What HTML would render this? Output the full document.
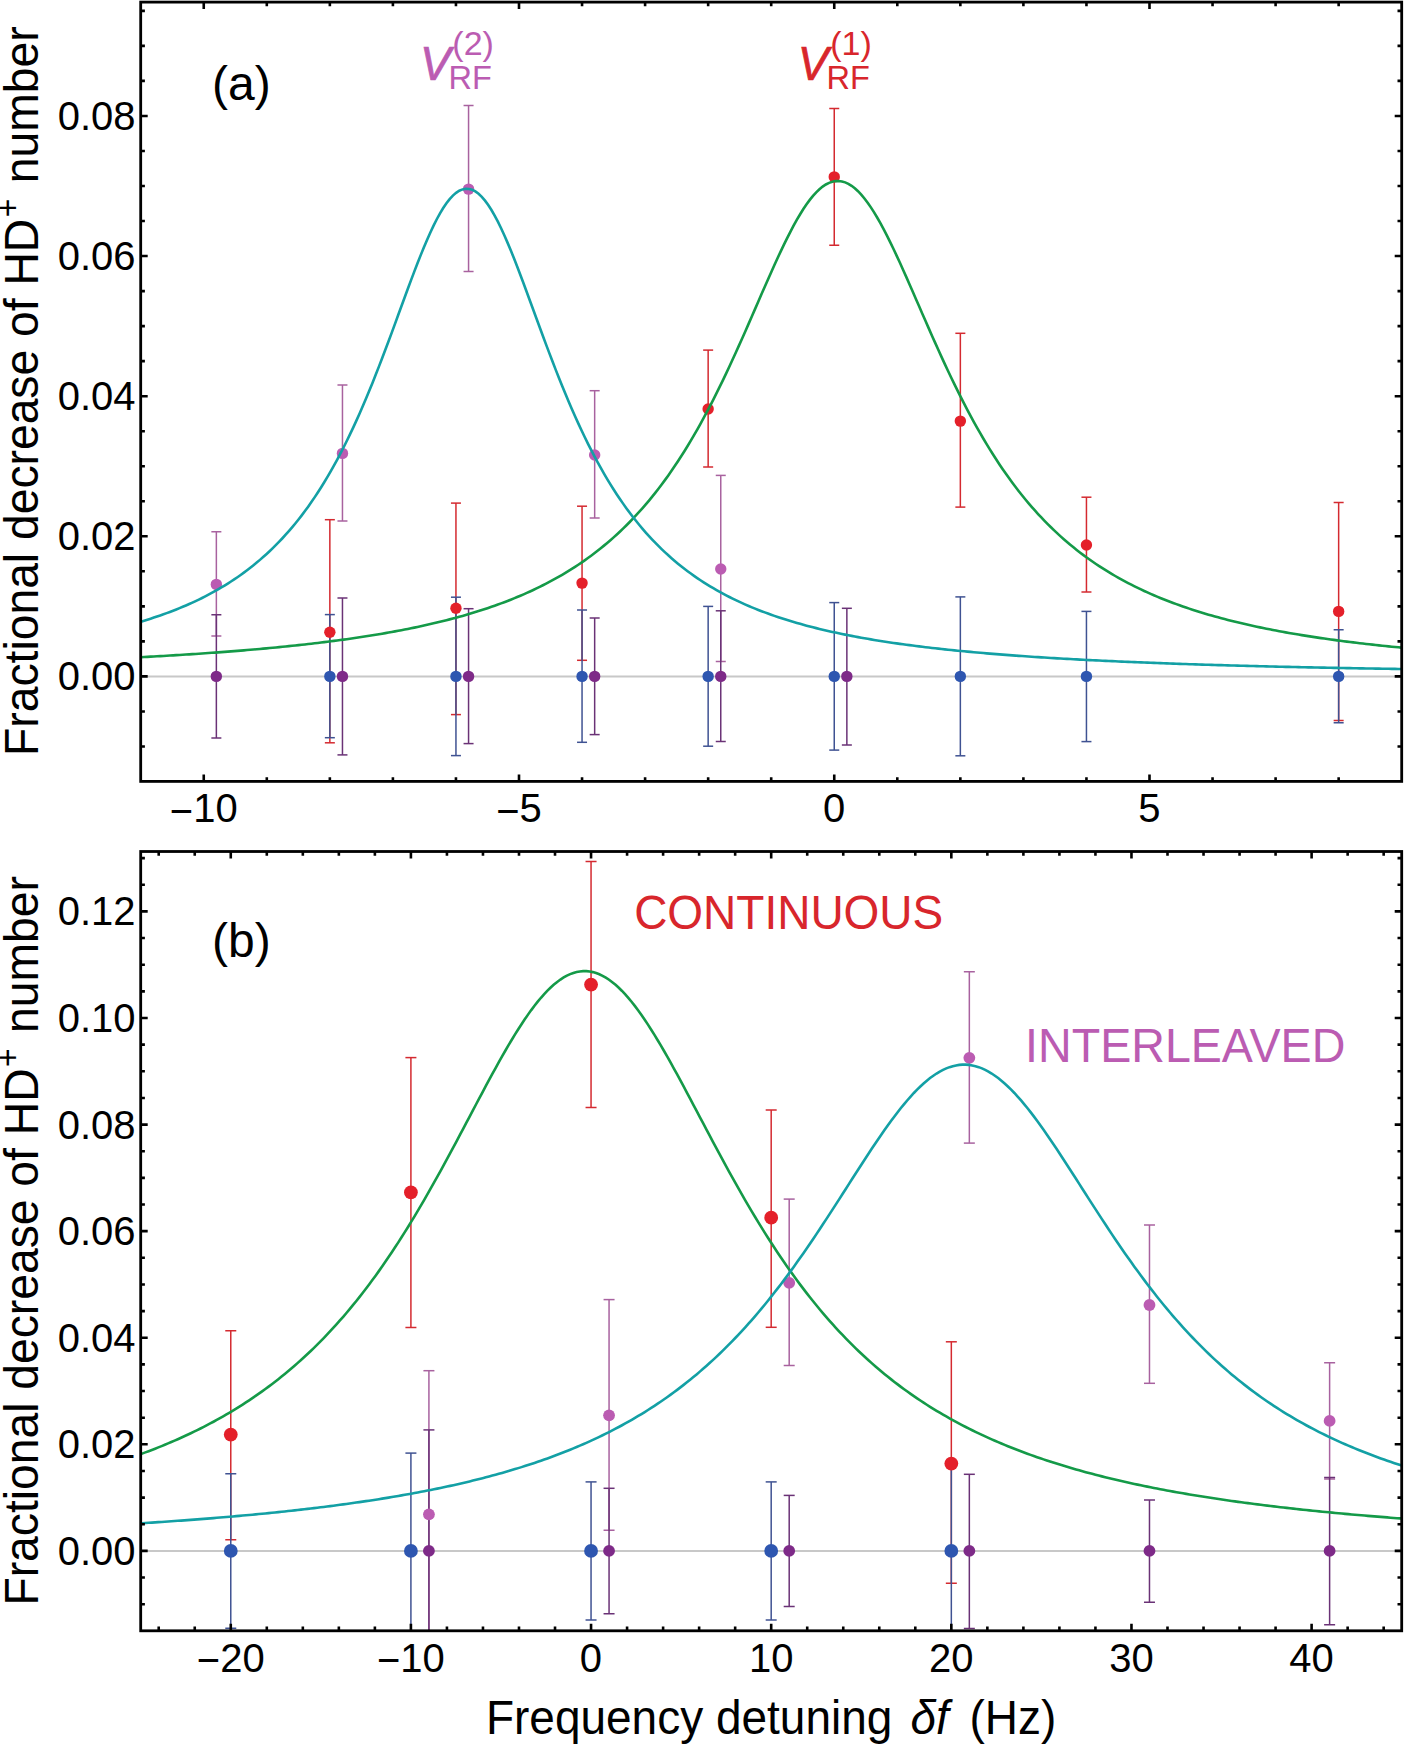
<!DOCTYPE html><html><head><meta charset="utf-8"><style>html,body{margin:0;padding:0;background:#fff}svg text{font-family:"Liberation Sans",sans-serif}</style></head><body><svg width="1404" height="1744" viewBox="0 0 1404 1744" style="display:block;font-family:'Liberation Sans',sans-serif">
<rect width="1404" height="1744" fill="#fff"/>
<defs><clipPath id="ca"><rect x="140.7" y="2.1" width="1261" height="779.3"/></clipPath><clipPath id="cb"><rect x="140.7" y="851.5" width="1261" height="779.3"/></clipPath></defs>
<g clip-path="url(#ca)">
<line x1="140.7" y1="676.4" x2="1401.7" y2="676.4" stroke="#c8c8c8" stroke-width="2"/>
<line x1="329.85" y1="519.7" x2="329.85" y2="742.8" stroke="#d42a30" stroke-width="1.5"/><line x1="324.85" y1="519.7" x2="334.85" y2="519.7" stroke="#d42a30" stroke-width="1.5"/><line x1="324.85" y1="742.8" x2="334.85" y2="742.8" stroke="#d42a30" stroke-width="1.5"/>
<line x1="455.95" y1="503.1" x2="455.95" y2="714.6" stroke="#d42a30" stroke-width="1.5"/><line x1="450.95" y1="503.1" x2="460.95" y2="503.1" stroke="#d42a30" stroke-width="1.5"/><line x1="450.95" y1="714.6" x2="460.95" y2="714.6" stroke="#d42a30" stroke-width="1.5"/>
<line x1="582.05" y1="506.2" x2="582.05" y2="660.3" stroke="#d42a30" stroke-width="1.5"/><line x1="577.05" y1="506.2" x2="587.05" y2="506.2" stroke="#d42a30" stroke-width="1.5"/><line x1="577.05" y1="660.3" x2="587.05" y2="660.3" stroke="#d42a30" stroke-width="1.5"/>
<line x1="708.15" y1="350.1" x2="708.15" y2="467" stroke="#d42a30" stroke-width="1.5"/><line x1="703.15" y1="350.1" x2="713.15" y2="350.1" stroke="#d42a30" stroke-width="1.5"/><line x1="703.15" y1="467" x2="713.15" y2="467" stroke="#d42a30" stroke-width="1.5"/>
<line x1="834.25" y1="108.5" x2="834.25" y2="245.2" stroke="#d42a30" stroke-width="1.5"/><line x1="829.25" y1="108.5" x2="839.25" y2="108.5" stroke="#d42a30" stroke-width="1.5"/><line x1="829.25" y1="245.2" x2="839.25" y2="245.2" stroke="#d42a30" stroke-width="1.5"/>
<line x1="960.35" y1="333.3" x2="960.35" y2="507.1" stroke="#d42a30" stroke-width="1.5"/><line x1="955.35" y1="333.3" x2="965.35" y2="333.3" stroke="#d42a30" stroke-width="1.5"/><line x1="955.35" y1="507.1" x2="965.35" y2="507.1" stroke="#d42a30" stroke-width="1.5"/>
<line x1="1086.45" y1="497.2" x2="1086.45" y2="592" stroke="#d42a30" stroke-width="1.5"/><line x1="1081.45" y1="497.2" x2="1091.45" y2="497.2" stroke="#d42a30" stroke-width="1.5"/><line x1="1081.45" y1="592" x2="1091.45" y2="592" stroke="#d42a30" stroke-width="1.5"/>
<line x1="1338.65" y1="502.6" x2="1338.65" y2="720.6" stroke="#d42a30" stroke-width="1.5"/><line x1="1333.65" y1="502.6" x2="1343.65" y2="502.6" stroke="#d42a30" stroke-width="1.5"/><line x1="1333.65" y1="720.6" x2="1343.65" y2="720.6" stroke="#d42a30" stroke-width="1.5"/>
<line x1="216.36" y1="531.8" x2="216.36" y2="635.9" stroke="#a8629f" stroke-width="1.5"/><line x1="211.36" y1="531.8" x2="221.36" y2="531.8" stroke="#a8629f" stroke-width="1.5"/><line x1="211.36" y1="635.9" x2="221.36" y2="635.9" stroke="#a8629f" stroke-width="1.5"/>
<line x1="342.46" y1="385" x2="342.46" y2="521" stroke="#a8629f" stroke-width="1.5"/><line x1="337.46" y1="385" x2="347.46" y2="385" stroke="#a8629f" stroke-width="1.5"/><line x1="337.46" y1="521" x2="347.46" y2="521" stroke="#a8629f" stroke-width="1.5"/>
<line x1="468.56" y1="105.6" x2="468.56" y2="271.5" stroke="#a8629f" stroke-width="1.5"/><line x1="463.56" y1="105.6" x2="473.56" y2="105.6" stroke="#a8629f" stroke-width="1.5"/><line x1="463.56" y1="271.5" x2="473.56" y2="271.5" stroke="#a8629f" stroke-width="1.5"/>
<line x1="594.66" y1="390.7" x2="594.66" y2="518" stroke="#a8629f" stroke-width="1.5"/><line x1="589.66" y1="390.7" x2="599.66" y2="390.7" stroke="#a8629f" stroke-width="1.5"/><line x1="589.66" y1="518" x2="599.66" y2="518" stroke="#a8629f" stroke-width="1.5"/>
<line x1="720.76" y1="475.4" x2="720.76" y2="661.5" stroke="#a8629f" stroke-width="1.5"/><line x1="715.76" y1="475.4" x2="725.76" y2="475.4" stroke="#a8629f" stroke-width="1.5"/><line x1="715.76" y1="661.5" x2="725.76" y2="661.5" stroke="#a8629f" stroke-width="1.5"/>
<line x1="329.85" y1="614.6" x2="329.85" y2="737.7" stroke="#3f5292" stroke-width="1.5"/><line x1="324.85" y1="614.6" x2="334.85" y2="614.6" stroke="#3f5292" stroke-width="1.5"/><line x1="324.85" y1="737.7" x2="334.85" y2="737.7" stroke="#3f5292" stroke-width="1.5"/>
<line x1="455.95" y1="597.2" x2="455.95" y2="755.6" stroke="#3f5292" stroke-width="1.5"/><line x1="450.95" y1="597.2" x2="460.95" y2="597.2" stroke="#3f5292" stroke-width="1.5"/><line x1="450.95" y1="755.6" x2="460.95" y2="755.6" stroke="#3f5292" stroke-width="1.5"/>
<line x1="582.05" y1="610" x2="582.05" y2="742.3" stroke="#3f5292" stroke-width="1.5"/><line x1="577.05" y1="610" x2="587.05" y2="610" stroke="#3f5292" stroke-width="1.5"/><line x1="577.05" y1="742.3" x2="587.05" y2="742.3" stroke="#3f5292" stroke-width="1.5"/>
<line x1="708.15" y1="606.4" x2="708.15" y2="746.2" stroke="#3f5292" stroke-width="1.5"/><line x1="703.15" y1="606.4" x2="713.15" y2="606.4" stroke="#3f5292" stroke-width="1.5"/><line x1="703.15" y1="746.2" x2="713.15" y2="746.2" stroke="#3f5292" stroke-width="1.5"/>
<line x1="834.25" y1="602.6" x2="834.25" y2="750.1" stroke="#3f5292" stroke-width="1.5"/><line x1="829.25" y1="602.6" x2="839.25" y2="602.6" stroke="#3f5292" stroke-width="1.5"/><line x1="829.25" y1="750.1" x2="839.25" y2="750.1" stroke="#3f5292" stroke-width="1.5"/>
<line x1="960.35" y1="596.9" x2="960.35" y2="755.8" stroke="#3f5292" stroke-width="1.5"/><line x1="955.35" y1="596.9" x2="965.35" y2="596.9" stroke="#3f5292" stroke-width="1.5"/><line x1="955.35" y1="755.8" x2="965.35" y2="755.8" stroke="#3f5292" stroke-width="1.5"/>
<line x1="1086.45" y1="611.4" x2="1086.45" y2="741.6" stroke="#3f5292" stroke-width="1.5"/><line x1="1081.45" y1="611.4" x2="1091.45" y2="611.4" stroke="#3f5292" stroke-width="1.5"/><line x1="1081.45" y1="741.6" x2="1091.45" y2="741.6" stroke="#3f5292" stroke-width="1.5"/>
<line x1="1338.65" y1="629.7" x2="1338.65" y2="722.8" stroke="#3f5292" stroke-width="1.5"/><line x1="1333.65" y1="629.7" x2="1343.65" y2="629.7" stroke="#3f5292" stroke-width="1.5"/><line x1="1333.65" y1="722.8" x2="1343.65" y2="722.8" stroke="#3f5292" stroke-width="1.5"/>
<line x1="216.36" y1="614.8" x2="216.36" y2="737.9" stroke="#6a3276" stroke-width="1.5"/><line x1="211.36" y1="614.8" x2="221.36" y2="614.8" stroke="#6a3276" stroke-width="1.5"/><line x1="211.36" y1="737.9" x2="221.36" y2="737.9" stroke="#6a3276" stroke-width="1.5"/>
<line x1="342.46" y1="598" x2="342.46" y2="754.9" stroke="#6a3276" stroke-width="1.5"/><line x1="337.46" y1="598" x2="347.46" y2="598" stroke="#6a3276" stroke-width="1.5"/><line x1="337.46" y1="754.9" x2="347.46" y2="754.9" stroke="#6a3276" stroke-width="1.5"/>
<line x1="468.56" y1="608.7" x2="468.56" y2="743.6" stroke="#6a3276" stroke-width="1.5"/><line x1="463.56" y1="608.7" x2="473.56" y2="608.7" stroke="#6a3276" stroke-width="1.5"/><line x1="463.56" y1="743.6" x2="473.56" y2="743.6" stroke="#6a3276" stroke-width="1.5"/>
<line x1="594.66" y1="618" x2="594.66" y2="734.6" stroke="#6a3276" stroke-width="1.5"/><line x1="589.66" y1="618" x2="599.66" y2="618" stroke="#6a3276" stroke-width="1.5"/><line x1="589.66" y1="734.6" x2="599.66" y2="734.6" stroke="#6a3276" stroke-width="1.5"/>
<line x1="720.76" y1="610.8" x2="720.76" y2="741.5" stroke="#6a3276" stroke-width="1.5"/><line x1="715.76" y1="610.8" x2="725.76" y2="610.8" stroke="#6a3276" stroke-width="1.5"/><line x1="715.76" y1="741.5" x2="725.76" y2="741.5" stroke="#6a3276" stroke-width="1.5"/>
<line x1="846.86" y1="608.3" x2="846.86" y2="745" stroke="#6a3276" stroke-width="1.5"/><line x1="841.86" y1="608.3" x2="851.86" y2="608.3" stroke="#6a3276" stroke-width="1.5"/><line x1="841.86" y1="745" x2="851.86" y2="745" stroke="#6a3276" stroke-width="1.5"/>
<circle cx="329.85" cy="632.3" r="5.7" fill="#e4202a"/>
<circle cx="455.95" cy="608.2" r="5.7" fill="#e4202a"/>
<circle cx="582.05" cy="583.1" r="5.7" fill="#e4202a"/>
<circle cx="708.15" cy="409" r="5.7" fill="#e4202a"/>
<circle cx="834.25" cy="176.9" r="5.7" fill="#e4202a"/>
<circle cx="960.35" cy="421.1" r="5.7" fill="#e4202a"/>
<circle cx="1086.45" cy="545" r="5.7" fill="#e4202a"/>
<circle cx="1338.65" cy="611.4" r="5.7" fill="#e4202a"/>
<circle cx="216.36" cy="584.4" r="5.7" fill="#bb5cb2"/>
<circle cx="342.46" cy="453.4" r="5.7" fill="#bb5cb2"/>
<circle cx="468.56" cy="189.1" r="5.7" fill="#bb5cb2"/>
<circle cx="594.66" cy="455" r="5.7" fill="#bb5cb2"/>
<circle cx="720.76" cy="569" r="5.7" fill="#bb5cb2"/>
<circle cx="329.85" cy="676.4" r="5.7" fill="#2e56b0"/>
<circle cx="455.95" cy="676.4" r="5.7" fill="#2e56b0"/>
<circle cx="582.05" cy="676.4" r="5.7" fill="#2e56b0"/>
<circle cx="708.15" cy="676.4" r="5.7" fill="#2e56b0"/>
<circle cx="834.25" cy="676.4" r="5.7" fill="#2e56b0"/>
<circle cx="960.35" cy="676.4" r="5.7" fill="#2e56b0"/>
<circle cx="1086.45" cy="676.4" r="5.7" fill="#2e56b0"/>
<circle cx="1338.65" cy="676.4" r="5.7" fill="#2e56b0"/>
<circle cx="216.36" cy="676.4" r="5.7" fill="#7e2a88"/>
<circle cx="342.46" cy="676.4" r="5.7" fill="#7e2a88"/>
<circle cx="468.56" cy="676.4" r="5.7" fill="#7e2a88"/>
<circle cx="594.66" cy="676.4" r="5.7" fill="#7e2a88"/>
<circle cx="720.76" cy="676.4" r="5.7" fill="#7e2a88"/>
<circle cx="846.86" cy="676.4" r="5.7" fill="#7e2a88"/>
<path d="M128.09,657.85 L131.31,657.69 L134.52,657.52 L137.74,657.36 L140.95,657.19 L144.17,657.02 L147.38,656.84 L150.60,656.67 L153.81,656.49 L157.03,656.31 L160.25,656.12 L163.46,655.94 L166.68,655.75 L169.89,655.56 L173.11,655.37 L176.32,655.17 L179.54,654.97 L182.75,654.77 L185.97,654.56 L189.19,654.36 L192.40,654.15 L195.62,653.93 L198.83,653.72 L202.05,653.50 L205.26,653.27 L208.48,653.05 L211.69,652.82 L214.91,652.59 L218.13,652.35 L221.34,652.11 L224.56,651.87 L227.77,651.62 L230.99,651.37 L234.20,651.12 L237.42,650.86 L240.63,650.60 L243.85,650.33 L247.07,650.06 L250.28,649.79 L253.50,649.51 L256.71,649.23 L259.93,648.94 L263.14,648.65 L266.36,648.36 L269.57,648.06 L272.79,647.75 L276.01,647.44 L279.22,647.13 L282.44,646.81 L285.65,646.48 L288.87,646.15 L292.08,645.82 L295.30,645.48 L298.51,645.13 L301.73,644.78 L304.95,644.42 L308.16,644.06 L311.38,643.69 L314.59,643.31 L317.81,642.93 L321.02,642.54 L324.24,642.14 L327.45,641.74 L330.67,641.33 L333.89,640.91 L337.10,640.49 L340.32,640.06 L343.53,639.62 L346.75,639.17 L349.96,638.71 L353.18,638.25 L356.39,637.78 L359.61,637.30 L362.83,636.81 L366.04,636.31 L369.26,635.81 L372.47,635.29 L375.69,634.76 L378.90,634.23 L382.12,633.68 L385.33,633.13 L388.55,632.56 L391.77,631.98 L394.98,631.39 L398.20,630.79 L401.41,630.18 L404.63,629.56 L407.84,628.92 L411.06,628.27 L414.27,627.61 L417.49,626.94 L420.71,626.25 L423.92,625.54 L427.14,624.83 L430.35,624.10 L433.57,623.35 L436.78,622.59 L440.00,621.81 L443.21,621.02 L446.43,620.21 L449.64,619.38 L452.86,618.54 L456.08,617.67 L459.29,616.79 L462.51,615.89 L465.72,614.97 L468.94,614.03 L472.15,613.07 L475.37,612.08 L478.58,611.08 L481.80,610.05 L485.02,609.00 L488.23,607.93 L491.45,606.83 L494.66,605.71 L497.88,604.56 L501.09,603.38 L504.31,602.18 L507.52,600.95 L510.74,599.69 L513.96,598.40 L517.17,597.07 L520.39,595.72 L523.60,594.34 L526.82,592.92 L530.03,591.46 L533.25,589.98 L536.46,588.45 L539.68,586.89 L542.90,585.28 L546.11,583.64 L549.33,581.96 L552.54,580.23 L555.76,578.46 L558.97,576.65 L562.19,574.78 L565.40,572.87 L568.62,570.91 L571.84,568.90 L575.05,566.84 L578.27,564.72 L581.48,562.55 L584.70,560.32 L587.91,558.03 L591.13,555.68 L594.34,553.27 L597.56,550.79 L600.78,548.25 L603.99,545.63 L607.21,542.95 L610.42,540.19 L613.64,537.36 L616.85,534.45 L620.07,531.46 L623.28,528.38 L626.50,525.23 L629.72,521.99 L632.93,518.65 L636.15,515.23 L639.36,511.71 L642.58,508.10 L645.79,504.39 L649.01,500.57 L652.22,496.65 L655.44,492.63 L658.66,488.49 L661.87,484.25 L665.09,479.89 L668.30,475.41 L671.52,470.81 L674.73,466.10 L677.95,461.26 L681.16,456.30 L684.38,451.21 L687.60,445.99 L690.81,440.64 L694.03,435.17 L697.24,429.56 L700.46,423.82 L703.67,417.96 L706.89,411.96 L710.10,405.83 L713.32,399.58 L716.54,393.20 L719.75,386.70 L722.97,380.08 L726.18,373.35 L729.40,366.51 L732.61,359.56 L735.83,352.53 L739.04,345.40 L742.26,338.20 L745.48,330.94 L748.69,323.62 L751.91,316.26 L755.12,308.88 L758.34,301.48 L761.55,294.10 L764.77,286.74 L767.98,279.43 L771.20,272.19 L774.42,265.04 L777.63,258.00 L780.85,251.11 L784.06,244.39 L787.28,237.85 L790.49,231.54 L793.71,225.48 L796.92,219.70 L800.14,214.22 L803.36,209.08 L806.57,204.29 L809.79,199.90 L813.00,195.91 L816.22,192.35 L819.43,189.25 L822.65,186.61 L825.86,184.47 L829.08,182.83 L832.30,181.70 L835.51,181.08 L838.73,180.99 L841.94,181.42 L845.16,182.37 L848.37,183.84 L851.59,185.81 L854.80,188.27 L858.02,191.21 L861.24,194.61 L864.45,198.46 L867.67,202.71 L870.88,207.37 L874.10,212.39 L877.31,217.75 L880.53,223.43 L883.74,229.40 L886.96,235.62 L890.18,242.08 L893.39,248.74 L896.61,255.58 L899.82,262.57 L903.04,269.68 L906.25,276.89 L909.47,284.18 L912.68,291.53 L915.90,298.90 L919.12,306.30 L922.33,313.69 L925.55,321.06 L928.76,328.39 L931.98,335.68 L935.19,342.90 L938.41,350.05 L941.62,357.12 L944.84,364.10 L948.06,370.97 L951.27,377.74 L954.49,384.40 L957.70,390.94 L960.92,397.37 L964.13,403.66 L967.35,409.84 L970.56,415.88 L973.78,421.79 L977.00,427.57 L980.21,433.23 L983.43,438.75 L986.64,444.14 L989.86,449.40 L993.07,454.54 L996.29,459.54 L999.50,464.42 L1002.72,469.18 L1005.94,473.82 L1009.15,478.34 L1012.37,482.74 L1015.58,487.02 L1018.80,491.20 L1022.01,495.26 L1025.23,499.22 L1028.44,503.07 L1031.66,506.82 L1034.88,510.46 L1038.09,514.01 L1041.31,517.47 L1044.52,520.83 L1047.74,524.11 L1050.95,527.29 L1054.17,530.39 L1057.38,533.41 L1060.60,536.35 L1063.82,539.21 L1067.03,541.99 L1070.25,544.70 L1073.46,547.34 L1076.68,549.91 L1079.89,552.41 L1083.11,554.85 L1086.32,557.22 L1089.54,559.53 L1092.76,561.78 L1095.97,563.97 L1099.19,566.11 L1102.40,568.19 L1105.62,570.22 L1108.83,572.20 L1112.05,574.12 L1115.26,576.00 L1118.48,577.83 L1121.69,579.62 L1124.91,581.36 L1128.13,583.06 L1131.34,584.71 L1134.56,586.33 L1137.77,587.91 L1140.99,589.45 L1144.20,590.95 L1147.42,592.41 L1150.63,593.85 L1153.85,595.24 L1157.07,596.61 L1160.28,597.94 L1163.50,599.24 L1166.71,600.51 L1169.93,601.75 L1173.14,602.97 L1176.36,604.15 L1179.57,605.31 L1182.79,606.44 L1186.01,607.55 L1189.22,608.63 L1192.44,609.69 L1195.65,610.72 L1198.87,611.74 L1202.08,612.73 L1205.30,613.70 L1208.51,614.64 L1211.73,615.57 L1214.95,616.48 L1218.16,617.37 L1221.38,618.24 L1224.59,619.09 L1227.81,619.92 L1231.02,620.74 L1234.24,621.54 L1237.45,622.32 L1240.67,623.09 L1243.89,623.84 L1247.10,624.57 L1250.32,625.30 L1253.53,626.00 L1256.75,626.70 L1259.96,627.38 L1263.18,628.04 L1266.39,628.70 L1269.61,629.34 L1272.83,629.96 L1276.04,630.58 L1279.26,631.18 L1282.47,631.78 L1285.69,632.36 L1288.90,632.93 L1292.12,633.49 L1295.33,634.04 L1298.55,634.58 L1301.77,635.11 L1304.98,635.63 L1308.20,636.14 L1311.41,636.64 L1314.63,637.13 L1317.84,637.61 L1321.06,638.09 L1324.27,638.55 L1327.49,639.01 L1330.71,639.46 L1333.92,639.90 L1337.14,640.34 L1340.35,640.76 L1343.57,641.18 L1346.78,641.60 L1350.00,642.00 L1353.21,642.40 L1356.43,642.79 L1359.65,643.18 L1362.86,643.56 L1366.08,643.93 L1369.29,644.29 L1372.51,644.65 L1375.72,645.01 L1378.94,645.36 L1382.15,645.70 L1385.37,646.04 L1388.59,646.37 L1391.80,646.70 L1395.02,647.02 L1398.23,647.33 L1401.45,647.65 L1404.66,647.95 L1407.88,648.25 L1411.09,648.55 L1414.31,648.84" fill="none" stroke="#149a48" stroke-width="2.6"/>
<path d="M128.09,625.29 L131.31,624.42 L134.52,623.51 L137.74,622.59 L140.95,621.64 L144.17,620.67 L147.38,619.67 L150.60,618.65 L153.81,617.60 L157.03,616.52 L160.25,615.42 L163.46,614.28 L166.68,613.12 L169.89,611.92 L173.11,610.69 L176.32,609.43 L179.54,608.14 L182.75,606.80 L185.97,605.43 L189.19,604.02 L192.40,602.58 L195.62,601.09 L198.83,599.55 L202.05,597.98 L205.26,596.35 L208.48,594.68 L211.69,592.97 L214.91,591.20 L218.13,589.37 L221.34,587.49 L224.56,585.56 L227.77,583.57 L230.99,581.51 L234.20,579.40 L237.42,577.21 L240.63,574.96 L243.85,572.64 L247.07,570.25 L250.28,567.78 L253.50,565.23 L256.71,562.60 L259.93,559.88 L263.14,557.08 L266.36,554.19 L269.57,551.20 L272.79,548.12 L276.01,544.93 L279.22,541.64 L282.44,538.24 L285.65,534.72 L288.87,531.10 L292.08,527.35 L295.30,523.47 L298.51,519.47 L301.73,515.33 L304.95,511.06 L308.16,506.64 L311.38,502.08 L314.59,497.36 L317.81,492.49 L321.02,487.46 L324.24,482.27 L327.45,476.91 L330.67,471.38 L333.89,465.68 L337.10,459.79 L340.32,453.73 L343.53,447.48 L346.75,441.04 L349.96,434.42 L353.18,427.61 L356.39,420.61 L359.61,413.43 L362.83,406.06 L366.04,398.51 L369.26,390.79 L372.47,382.90 L375.69,374.84 L378.90,366.64 L382.12,358.29 L385.33,349.82 L388.55,341.25 L391.77,332.58 L394.98,323.85 L398.20,315.07 L401.41,306.28 L404.63,297.51 L407.84,288.78 L411.06,280.14 L414.27,271.63 L417.49,263.28 L420.71,255.14 L423.92,247.25 L427.14,239.67 L430.35,232.44 L433.57,225.61 L436.78,219.23 L440.00,213.34 L443.21,207.99 L446.43,203.23 L449.64,199.08 L452.86,195.60 L456.08,192.81 L459.29,190.73 L462.51,189.38 L465.72,188.77 L468.94,188.92 L472.15,189.82 L475.37,191.46 L478.58,193.82 L481.80,196.89 L485.02,200.63 L488.23,205.02 L491.45,210.02 L494.66,215.58 L497.88,221.67 L501.09,228.24 L504.31,235.23 L507.52,242.61 L510.74,250.31 L513.96,258.30 L517.17,266.53 L520.39,274.95 L523.60,283.52 L526.82,292.19 L530.03,300.94 L533.25,309.73 L536.46,318.52 L539.68,327.28 L542.90,335.99 L546.11,344.62 L549.33,353.16 L552.54,361.58 L555.76,369.87 L558.97,378.02 L562.19,386.01 L565.40,393.84 L568.62,401.49 L571.84,408.97 L575.05,416.27 L578.27,423.38 L581.48,430.30 L584.70,437.04 L587.91,443.59 L591.13,449.95 L594.34,456.13 L597.56,462.12 L600.78,467.94 L603.99,473.57 L607.21,479.04 L610.42,484.33 L613.64,489.46 L616.85,494.42 L620.07,499.23 L623.28,503.88 L626.50,508.39 L629.72,512.75 L632.93,516.97 L636.15,521.05 L639.36,525.01 L642.58,528.83 L645.79,532.53 L649.01,536.12 L652.22,539.58 L655.44,542.94 L658.66,546.19 L661.87,549.34 L665.09,552.38 L668.30,555.33 L671.52,558.19 L674.73,560.96 L677.95,563.64 L681.16,566.24 L684.38,568.76 L687.60,571.20 L690.81,573.56 L694.03,575.85 L697.24,578.08 L700.46,580.23 L703.67,582.33 L706.89,584.36 L710.10,586.33 L713.32,588.24 L716.54,590.09 L719.75,591.90 L722.97,593.65 L726.18,595.34 L729.40,597.00 L732.61,598.60 L735.83,600.16 L739.04,601.67 L742.26,603.15 L745.48,604.58 L748.69,605.97 L751.91,607.33 L755.12,608.65 L758.34,609.93 L761.55,611.18 L764.77,612.40 L767.98,613.58 L771.20,614.73 L774.42,615.86 L777.63,616.95 L780.85,618.02 L784.06,619.05 L787.28,620.07 L790.49,621.05 L793.71,622.02 L796.92,622.95 L800.14,623.87 L803.36,624.76 L806.57,625.63 L809.79,626.48 L813.00,627.31 L816.22,628.12 L819.43,628.91 L822.65,629.69 L825.86,630.44 L829.08,631.18 L832.30,631.90 L835.51,632.60 L838.73,633.29 L841.94,633.96 L845.16,634.62 L848.37,635.26 L851.59,635.89 L854.80,636.50 L858.02,637.10 L861.24,637.69 L864.45,638.26 L867.67,638.82 L870.88,639.37 L874.10,639.91 L877.31,640.44 L880.53,640.96 L883.74,641.46 L886.96,641.96 L890.18,642.44 L893.39,642.92 L896.61,643.38 L899.82,643.84 L903.04,644.28 L906.25,644.72 L909.47,645.15 L912.68,645.57 L915.90,645.98 L919.12,646.39 L922.33,646.79 L925.55,647.17 L928.76,647.56 L931.98,647.93 L935.19,648.30 L938.41,648.66 L941.62,649.01 L944.84,649.36 L948.06,649.70 L951.27,650.03 L954.49,650.36 L957.70,650.68 L960.92,651.00 L964.13,651.31 L967.35,651.61 L970.56,651.91 L973.78,652.21 L977.00,652.50 L980.21,652.78 L983.43,653.06 L986.64,653.33 L989.86,653.60 L993.07,653.87 L996.29,654.13 L999.50,654.38 L1002.72,654.64 L1005.94,654.88 L1009.15,655.13 L1012.37,655.37 L1015.58,655.60 L1018.80,655.83 L1022.01,656.06 L1025.23,656.28 L1028.44,656.50 L1031.66,656.72 L1034.88,656.93 L1038.09,657.14 L1041.31,657.35 L1044.52,657.55 L1047.74,657.75 L1050.95,657.95 L1054.17,658.14 L1057.38,658.34 L1060.60,658.52 L1063.82,658.71 L1067.03,658.89 L1070.25,659.07 L1073.46,659.25 L1076.68,659.42 L1079.89,659.59 L1083.11,659.76 L1086.32,659.93 L1089.54,660.09 L1092.76,660.25 L1095.97,660.41 L1099.19,660.57 L1102.40,660.72 L1105.62,660.88 L1108.83,661.03 L1112.05,661.17 L1115.26,661.32 L1118.48,661.46 L1121.69,661.61 L1124.91,661.75 L1128.13,661.88 L1131.34,662.02 L1134.56,662.15 L1137.77,662.29 L1140.99,662.42 L1144.20,662.55 L1147.42,662.67 L1150.63,662.80 L1153.85,662.92 L1157.07,663.04 L1160.28,663.16 L1163.50,663.28 L1166.71,663.40 L1169.93,663.51 L1173.14,663.63 L1176.36,663.74 L1179.57,663.85 L1182.79,663.96 L1186.01,664.07 L1189.22,664.18 L1192.44,664.28 L1195.65,664.39 L1198.87,664.49 L1202.08,664.59 L1205.30,664.69 L1208.51,664.79 L1211.73,664.89 L1214.95,664.98 L1218.16,665.08 L1221.38,665.17 L1224.59,665.26 L1227.81,665.36 L1231.02,665.45 L1234.24,665.54 L1237.45,665.63 L1240.67,665.71 L1243.89,665.80 L1247.10,665.88 L1250.32,665.97 L1253.53,666.05 L1256.75,666.13 L1259.96,666.22 L1263.18,666.30 L1266.39,666.38 L1269.61,666.45 L1272.83,666.53 L1276.04,666.61 L1279.26,666.68 L1282.47,666.76 L1285.69,666.83 L1288.90,666.91 L1292.12,666.98 L1295.33,667.05 L1298.55,667.12 L1301.77,667.19 L1304.98,667.26 L1308.20,667.33 L1311.41,667.40 L1314.63,667.46 L1317.84,667.53 L1321.06,667.59 L1324.27,667.66 L1327.49,667.72 L1330.71,667.79 L1333.92,667.85 L1337.14,667.91 L1340.35,667.97 L1343.57,668.03 L1346.78,668.09 L1350.00,668.15 L1353.21,668.21 L1356.43,668.27 L1359.65,668.33 L1362.86,668.38 L1366.08,668.44 L1369.29,668.50 L1372.51,668.55 L1375.72,668.61 L1378.94,668.66 L1382.15,668.71 L1385.37,668.77 L1388.59,668.82 L1391.80,668.87 L1395.02,668.92 L1398.23,668.97 L1401.45,669.02 L1404.66,669.07 L1407.88,669.12 L1411.09,669.17 L1414.31,669.22" fill="none" stroke="#13a0a5" stroke-width="2.6"/>
</g>
<g clip-path="url(#cb)">
<line x1="140.7" y1="1550.9" x2="1401.7" y2="1550.9" stroke="#c8c8c8" stroke-width="2"/>
<line x1="230.77" y1="1330.8" x2="230.77" y2="1539.7" stroke="#d42a30" stroke-width="1.5"/><line x1="225.27" y1="1330.8" x2="236.27" y2="1330.8" stroke="#d42a30" stroke-width="1.5"/><line x1="225.27" y1="1539.7" x2="236.27" y2="1539.7" stroke="#d42a30" stroke-width="1.5"/>
<line x1="410.91" y1="1057.6" x2="410.91" y2="1327.5" stroke="#d42a30" stroke-width="1.5"/><line x1="405.41" y1="1057.6" x2="416.41" y2="1057.6" stroke="#d42a30" stroke-width="1.5"/><line x1="405.41" y1="1327.5" x2="416.41" y2="1327.5" stroke="#d42a30" stroke-width="1.5"/>
<line x1="591.05" y1="861.4" x2="591.05" y2="1107.5" stroke="#d42a30" stroke-width="1.5"/><line x1="585.55" y1="861.4" x2="596.55" y2="861.4" stroke="#d42a30" stroke-width="1.5"/><line x1="585.55" y1="1107.5" x2="596.55" y2="1107.5" stroke="#d42a30" stroke-width="1.5"/>
<line x1="771.19" y1="1110" x2="771.19" y2="1327.3" stroke="#d42a30" stroke-width="1.5"/><line x1="765.69" y1="1110" x2="776.69" y2="1110" stroke="#d42a30" stroke-width="1.5"/><line x1="765.69" y1="1327.3" x2="776.69" y2="1327.3" stroke="#d42a30" stroke-width="1.5"/>
<line x1="951.33" y1="1341.8" x2="951.33" y2="1583.2" stroke="#d42a30" stroke-width="1.5"/><line x1="945.83" y1="1341.8" x2="956.83" y2="1341.8" stroke="#d42a30" stroke-width="1.5"/><line x1="945.83" y1="1583.2" x2="956.83" y2="1583.2" stroke="#d42a30" stroke-width="1.5"/>
<line x1="428.92" y1="1370.7" x2="428.92" y2="1658" stroke="#a8629f" stroke-width="1.5"/><line x1="423.42" y1="1370.7" x2="434.42" y2="1370.7" stroke="#a8629f" stroke-width="1.5"/><line x1="423.42" y1="1658" x2="434.42" y2="1658" stroke="#a8629f" stroke-width="1.5"/>
<line x1="609.06" y1="1299.6" x2="609.06" y2="1530.3" stroke="#a8629f" stroke-width="1.5"/><line x1="603.56" y1="1299.6" x2="614.56" y2="1299.6" stroke="#a8629f" stroke-width="1.5"/><line x1="603.56" y1="1530.3" x2="614.56" y2="1530.3" stroke="#a8629f" stroke-width="1.5"/>
<line x1="789.2" y1="1199.1" x2="789.2" y2="1365.5" stroke="#a8629f" stroke-width="1.5"/><line x1="783.7" y1="1199.1" x2="794.7" y2="1199.1" stroke="#a8629f" stroke-width="1.5"/><line x1="783.7" y1="1365.5" x2="794.7" y2="1365.5" stroke="#a8629f" stroke-width="1.5"/>
<line x1="969.34" y1="971.8" x2="969.34" y2="1143.1" stroke="#a8629f" stroke-width="1.5"/><line x1="963.84" y1="971.8" x2="974.84" y2="971.8" stroke="#a8629f" stroke-width="1.5"/><line x1="963.84" y1="1143.1" x2="974.84" y2="1143.1" stroke="#a8629f" stroke-width="1.5"/>
<line x1="1149.48" y1="1225" x2="1149.48" y2="1383.3" stroke="#a8629f" stroke-width="1.5"/><line x1="1143.98" y1="1225" x2="1154.98" y2="1225" stroke="#a8629f" stroke-width="1.5"/><line x1="1143.98" y1="1383.3" x2="1154.98" y2="1383.3" stroke="#a8629f" stroke-width="1.5"/>
<line x1="1329.62" y1="1362.7" x2="1329.62" y2="1479" stroke="#a8629f" stroke-width="1.5"/><line x1="1324.12" y1="1362.7" x2="1335.12" y2="1362.7" stroke="#a8629f" stroke-width="1.5"/><line x1="1324.12" y1="1479" x2="1335.12" y2="1479" stroke="#a8629f" stroke-width="1.5"/>
<line x1="230.77" y1="1473.8" x2="230.77" y2="1628.2" stroke="#3f5292" stroke-width="1.5"/><line x1="225.27" y1="1473.8" x2="236.27" y2="1473.8" stroke="#3f5292" stroke-width="1.5"/><line x1="225.27" y1="1628.2" x2="236.27" y2="1628.2" stroke="#3f5292" stroke-width="1.5"/>
<line x1="410.91" y1="1453.1" x2="410.91" y2="1648.7" stroke="#3f5292" stroke-width="1.5"/><line x1="405.41" y1="1453.1" x2="416.41" y2="1453.1" stroke="#3f5292" stroke-width="1.5"/><line x1="405.41" y1="1648.7" x2="416.41" y2="1648.7" stroke="#3f5292" stroke-width="1.5"/>
<line x1="591.05" y1="1481.9" x2="591.05" y2="1620.1" stroke="#3f5292" stroke-width="1.5"/><line x1="585.55" y1="1481.9" x2="596.55" y2="1481.9" stroke="#3f5292" stroke-width="1.5"/><line x1="585.55" y1="1620.1" x2="596.55" y2="1620.1" stroke="#3f5292" stroke-width="1.5"/>
<line x1="771.19" y1="1481.9" x2="771.19" y2="1620.1" stroke="#3f5292" stroke-width="1.5"/><line x1="765.69" y1="1481.9" x2="776.69" y2="1481.9" stroke="#3f5292" stroke-width="1.5"/><line x1="765.69" y1="1620.1" x2="776.69" y2="1620.1" stroke="#3f5292" stroke-width="1.5"/>
<line x1="951.33" y1="1464" x2="951.33" y2="1640" stroke="#3f5292" stroke-width="1.5"/><line x1="945.83" y1="1464" x2="956.83" y2="1464" stroke="#3f5292" stroke-width="1.5"/><line x1="945.83" y1="1640" x2="956.83" y2="1640" stroke="#3f5292" stroke-width="1.5"/>
<line x1="428.92" y1="1429.9" x2="428.92" y2="1672" stroke="#6a3276" stroke-width="1.5"/><line x1="423.42" y1="1429.9" x2="434.42" y2="1429.9" stroke="#6a3276" stroke-width="1.5"/><line x1="423.42" y1="1672" x2="434.42" y2="1672" stroke="#6a3276" stroke-width="1.5"/>
<line x1="609.06" y1="1488.3" x2="609.06" y2="1613.7" stroke="#6a3276" stroke-width="1.5"/><line x1="603.56" y1="1488.3" x2="614.56" y2="1488.3" stroke="#6a3276" stroke-width="1.5"/><line x1="603.56" y1="1613.7" x2="614.56" y2="1613.7" stroke="#6a3276" stroke-width="1.5"/>
<line x1="789.2" y1="1495.4" x2="789.2" y2="1606.5" stroke="#6a3276" stroke-width="1.5"/><line x1="783.7" y1="1495.4" x2="794.7" y2="1495.4" stroke="#6a3276" stroke-width="1.5"/><line x1="783.7" y1="1606.5" x2="794.7" y2="1606.5" stroke="#6a3276" stroke-width="1.5"/>
<line x1="969.34" y1="1474.3" x2="969.34" y2="1628.5" stroke="#6a3276" stroke-width="1.5"/><line x1="963.84" y1="1474.3" x2="974.84" y2="1474.3" stroke="#6a3276" stroke-width="1.5"/><line x1="963.84" y1="1628.5" x2="974.84" y2="1628.5" stroke="#6a3276" stroke-width="1.5"/>
<line x1="1149.48" y1="1500" x2="1149.48" y2="1602.2" stroke="#6a3276" stroke-width="1.5"/><line x1="1143.98" y1="1500" x2="1154.98" y2="1500" stroke="#6a3276" stroke-width="1.5"/><line x1="1143.98" y1="1602.2" x2="1154.98" y2="1602.2" stroke="#6a3276" stroke-width="1.5"/>
<line x1="1329.62" y1="1477.5" x2="1329.62" y2="1624.7" stroke="#6a3276" stroke-width="1.5"/><line x1="1324.12" y1="1477.5" x2="1335.12" y2="1477.5" stroke="#6a3276" stroke-width="1.5"/><line x1="1324.12" y1="1624.7" x2="1335.12" y2="1624.7" stroke="#6a3276" stroke-width="1.5"/>
<circle cx="230.77" cy="1434.6" r="6.9" fill="#e4202a"/>
<circle cx="410.91" cy="1192.3" r="6.9" fill="#e4202a"/>
<circle cx="591.05" cy="984.6" r="6.9" fill="#e4202a"/>
<circle cx="771.19" cy="1217.7" r="6.9" fill="#e4202a"/>
<circle cx="951.33" cy="1463.6" r="6.9" fill="#e4202a"/>
<circle cx="428.92" cy="1514.3" r="5.9" fill="#bb5cb2"/>
<circle cx="609.06" cy="1415.3" r="5.9" fill="#bb5cb2"/>
<circle cx="789.2" cy="1282.8" r="5.9" fill="#bb5cb2"/>
<circle cx="969.34" cy="1057.8" r="5.9" fill="#bb5cb2"/>
<circle cx="1149.48" cy="1305" r="5.9" fill="#bb5cb2"/>
<circle cx="1329.62" cy="1420.9" r="5.9" fill="#bb5cb2"/>
<circle cx="230.77" cy="1550.9" r="6.9" fill="#2e56b0"/>
<circle cx="410.91" cy="1550.9" r="6.9" fill="#2e56b0"/>
<circle cx="591.05" cy="1550.9" r="6.9" fill="#2e56b0"/>
<circle cx="771.19" cy="1550.9" r="6.9" fill="#2e56b0"/>
<circle cx="951.33" cy="1550.9" r="6.9" fill="#2e56b0"/>
<circle cx="428.92" cy="1550.9" r="5.9" fill="#7e2a88"/>
<circle cx="609.06" cy="1550.9" r="5.9" fill="#7e2a88"/>
<circle cx="789.2" cy="1550.9" r="5.9" fill="#7e2a88"/>
<circle cx="969.34" cy="1550.9" r="5.9" fill="#7e2a88"/>
<circle cx="1149.48" cy="1550.9" r="5.9" fill="#7e2a88"/>
<circle cx="1329.62" cy="1550.9" r="5.9" fill="#7e2a88"/>
<path d="M122.69,1460.37 L125.93,1459.29 L129.17,1458.19 L132.41,1457.07 L135.66,1455.93 L138.90,1454.78 L142.14,1453.60 L145.38,1452.40 L148.63,1451.18 L151.87,1449.95 L155.11,1448.69 L158.35,1447.40 L161.60,1446.10 L164.84,1444.77 L168.08,1443.42 L171.32,1442.04 L174.57,1440.64 L177.81,1439.22 L181.05,1437.77 L184.29,1436.29 L187.54,1434.79 L190.78,1433.26 L194.02,1431.70 L197.26,1430.11 L200.51,1428.50 L203.75,1426.85 L206.99,1425.18 L210.23,1423.47 L213.48,1421.73 L216.72,1419.96 L219.96,1418.16 L223.20,1416.32 L226.45,1414.45 L229.69,1412.54 L232.93,1410.60 L236.17,1408.62 L239.42,1406.60 L242.66,1404.55 L245.90,1402.45 L249.14,1400.32 L252.39,1398.14 L255.63,1395.93 L258.87,1393.67 L262.11,1391.36 L265.36,1389.01 L268.60,1386.62 L271.84,1384.18 L275.08,1381.70 L278.33,1379.16 L281.57,1376.58 L284.81,1373.94 L288.05,1371.26 L291.30,1368.52 L294.54,1365.73 L297.78,1362.88 L301.02,1359.98 L304.27,1357.03 L307.51,1354.01 L310.75,1350.94 L313.99,1347.81 L317.24,1344.61 L320.48,1341.36 L323.72,1338.04 L326.96,1334.66 L330.21,1331.22 L333.45,1327.71 L336.69,1324.13 L339.93,1320.48 L343.18,1316.77 L346.42,1312.98 L349.66,1309.13 L352.90,1305.20 L356.15,1301.20 L359.39,1297.13 L362.63,1292.98 L365.88,1288.76 L369.12,1284.47 L372.36,1280.09 L375.60,1275.65 L378.85,1271.12 L382.09,1266.52 L385.33,1261.84 L388.57,1257.09 L391.82,1252.25 L395.06,1247.34 L398.30,1242.36 L401.54,1237.29 L404.79,1232.16 L408.03,1226.94 L411.27,1221.66 L414.51,1216.30 L417.76,1210.87 L421.00,1205.37 L424.24,1199.80 L427.48,1194.17 L430.73,1188.47 L433.97,1182.71 L437.21,1176.90 L440.45,1171.03 L443.70,1165.12 L446.94,1159.15 L450.18,1153.15 L453.42,1147.10 L456.67,1141.03 L459.91,1134.93 L463.15,1128.81 L466.39,1122.67 L469.64,1116.53 L472.88,1110.38 L476.12,1104.24 L479.36,1098.12 L482.61,1092.02 L485.85,1085.95 L489.09,1079.93 L492.33,1073.95 L495.58,1068.04 L498.82,1062.20 L502.06,1056.43 L505.30,1050.76 L508.55,1045.20 L511.79,1039.75 L515.03,1034.42 L518.27,1029.24 L521.52,1024.20 L524.76,1019.32 L528.00,1014.62 L531.24,1010.10 L534.49,1005.78 L537.73,1001.67 L540.97,997.77 L544.21,994.11 L547.46,990.68 L550.70,987.51 L553.94,984.59 L557.18,981.94 L560.43,979.56 L563.67,977.47 L566.91,975.66 L570.15,974.15 L573.40,972.94 L576.64,972.03 L579.88,971.43 L583.12,971.14 L586.37,971.15 L589.61,971.47 L592.85,972.10 L596.09,973.04 L599.34,974.28 L602.58,975.81 L605.82,977.64 L609.06,979.76 L612.31,982.16 L615.55,984.84 L618.79,987.78 L622.03,990.98 L625.28,994.43 L628.52,998.11 L631.76,1002.03 L635.00,1006.16 L638.25,1010.50 L641.49,1015.03 L644.73,1019.75 L647.97,1024.64 L651.22,1029.69 L654.46,1034.89 L657.70,1040.23 L660.94,1045.69 L664.19,1051.26 L667.43,1056.94 L670.67,1062.71 L673.91,1068.56 L677.16,1074.48 L680.40,1080.46 L683.64,1086.49 L686.88,1092.56 L690.13,1098.66 L693.37,1104.79 L696.61,1110.93 L699.85,1117.07 L703.10,1123.22 L706.34,1129.35 L709.58,1135.47 L712.82,1141.57 L716.07,1147.64 L719.31,1153.68 L722.55,1159.68 L725.79,1165.64 L729.04,1171.56 L732.28,1177.42 L735.52,1183.23 L738.76,1188.98 L742.01,1194.67 L745.25,1200.30 L748.49,1205.86 L751.73,1211.35 L754.98,1216.78 L758.22,1222.13 L761.46,1227.41 L764.70,1232.62 L767.95,1237.75 L771.19,1242.80 L774.43,1247.78 L777.68,1252.69 L780.92,1257.51 L784.16,1262.26 L787.40,1266.93 L790.65,1271.53 L793.89,1276.05 L797.13,1280.49 L800.37,1284.85 L803.62,1289.14 L806.86,1293.35 L810.10,1297.49 L813.34,1301.56 L816.59,1305.55 L819.83,1309.47 L823.07,1313.32 L826.31,1317.10 L829.56,1320.81 L832.80,1324.45 L836.04,1328.02 L839.28,1331.53 L842.53,1334.97 L845.77,1338.34 L849.01,1341.65 L852.25,1344.90 L855.50,1348.09 L858.74,1351.22 L861.98,1354.28 L865.22,1357.29 L868.47,1360.24 L871.71,1363.14 L874.95,1365.98 L878.19,1368.76 L881.44,1371.50 L884.68,1374.18 L887.92,1376.81 L891.16,1379.39 L894.41,1381.92 L897.65,1384.40 L900.89,1386.84 L904.13,1389.22 L907.38,1391.57 L910.62,1393.87 L913.86,1396.12 L917.10,1398.34 L920.35,1400.51 L923.59,1402.64 L926.83,1404.73 L930.07,1406.78 L933.32,1408.80 L936.56,1410.77 L939.80,1412.71 L943.04,1414.62 L946.29,1416.49 L949.53,1418.32 L952.77,1420.12 L956.01,1421.89 L959.26,1423.62 L962.50,1425.33 L965.74,1427.00 L968.98,1428.64 L972.23,1430.26 L975.47,1431.84 L978.71,1433.40 L981.95,1434.92 L985.20,1436.42 L988.44,1437.90 L991.68,1439.35 L994.92,1440.77 L998.17,1442.17 L1001.41,1443.54 L1004.65,1444.89 L1007.89,1446.22 L1011.14,1447.52 L1014.38,1448.80 L1017.62,1450.06 L1020.86,1451.29 L1024.11,1452.51 L1027.35,1453.70 L1030.59,1454.88 L1033.83,1456.03 L1037.08,1457.17 L1040.32,1458.29 L1043.56,1459.39 L1046.80,1460.47 L1050.05,1461.53 L1053.29,1462.57 L1056.53,1463.60 L1059.77,1464.61 L1063.02,1465.60 L1066.26,1466.58 L1069.50,1467.54 L1072.74,1468.49 L1075.99,1469.42 L1079.23,1470.34 L1082.47,1471.24 L1085.71,1472.13 L1088.96,1473.00 L1092.20,1473.86 L1095.44,1474.71 L1098.68,1475.54 L1101.93,1476.37 L1105.17,1477.17 L1108.41,1477.97 L1111.65,1478.75 L1114.90,1479.52 L1118.14,1480.28 L1121.38,1481.03 L1124.62,1481.77 L1127.87,1482.49 L1131.11,1483.21 L1134.35,1483.91 L1137.59,1484.61 L1140.84,1485.29 L1144.08,1485.96 L1147.32,1486.63 L1150.56,1487.28 L1153.81,1487.92 L1157.05,1488.56 L1160.29,1489.19 L1163.53,1489.80 L1166.78,1490.41 L1170.02,1491.01 L1173.26,1491.60 L1176.51,1492.18 L1179.75,1492.76 L1182.99,1493.32 L1186.23,1493.88 L1189.48,1494.43 L1192.72,1494.97 L1195.96,1495.51 L1199.20,1496.04 L1202.45,1496.56 L1205.69,1497.07 L1208.93,1497.58 L1212.17,1498.08 L1215.42,1498.57 L1218.66,1499.05 L1221.90,1499.53 L1225.14,1500.01 L1228.39,1500.47 L1231.63,1500.94 L1234.87,1501.39 L1238.11,1501.84 L1241.36,1502.28 L1244.60,1502.72 L1247.84,1503.15 L1251.08,1503.58 L1254.33,1504.00 L1257.57,1504.41 L1260.81,1504.82 L1264.05,1505.22 L1267.30,1505.62 L1270.54,1506.02 L1273.78,1506.41 L1277.02,1506.79 L1280.27,1507.17 L1283.51,1507.54 L1286.75,1507.91 L1289.99,1508.28 L1293.24,1508.64 L1296.48,1509.00 L1299.72,1509.35 L1302.96,1509.70 L1306.21,1510.04 L1309.45,1510.38 L1312.69,1510.71 L1315.93,1511.04 L1319.18,1511.37 L1322.42,1511.69 L1325.66,1512.01 L1328.90,1512.33 L1332.15,1512.64 L1335.39,1512.95 L1338.63,1513.25 L1341.87,1513.56 L1345.12,1513.85 L1348.36,1514.15 L1351.60,1514.44 L1354.84,1514.72 L1358.09,1515.01 L1361.33,1515.29 L1364.57,1515.57 L1367.81,1515.84 L1371.06,1516.11 L1374.30,1516.38 L1377.54,1516.65 L1380.78,1516.91 L1384.03,1517.17 L1387.27,1517.42 L1390.51,1517.68 L1393.75,1517.93 L1397.00,1518.18 L1400.24,1518.42 L1403.48,1518.66 L1406.72,1518.90 L1409.97,1519.14 L1413.21,1519.37 L1416.45,1519.61 L1419.69,1519.84" fill="none" stroke="#149a48" stroke-width="2.6"/>
<path d="M122.69,1524.42 L125.93,1524.22 L129.17,1524.03 L132.41,1523.83 L135.66,1523.63 L138.90,1523.43 L142.14,1523.22 L145.38,1523.01 L148.63,1522.81 L151.87,1522.59 L155.11,1522.38 L158.35,1522.16 L161.60,1521.94 L164.84,1521.72 L168.08,1521.50 L171.32,1521.27 L174.57,1521.04 L177.81,1520.81 L181.05,1520.58 L184.29,1520.34 L187.54,1520.10 L190.78,1519.86 L194.02,1519.61 L197.26,1519.37 L200.51,1519.12 L203.75,1518.86 L206.99,1518.61 L210.23,1518.35 L213.48,1518.08 L216.72,1517.82 L219.96,1517.55 L223.20,1517.28 L226.45,1517.00 L229.69,1516.72 L232.93,1516.44 L236.17,1516.15 L239.42,1515.86 L242.66,1515.57 L245.90,1515.28 L249.14,1514.98 L252.39,1514.67 L255.63,1514.36 L258.87,1514.05 L262.11,1513.74 L265.36,1513.42 L268.60,1513.10 L271.84,1512.77 L275.08,1512.44 L278.33,1512.10 L281.57,1511.76 L284.81,1511.42 L288.05,1511.07 L291.30,1510.72 L294.54,1510.36 L297.78,1510.00 L301.02,1509.63 L304.27,1509.26 L307.51,1508.88 L310.75,1508.50 L313.99,1508.11 L317.24,1507.72 L320.48,1507.32 L323.72,1506.92 L326.96,1506.51 L330.21,1506.10 L333.45,1505.68 L336.69,1505.26 L339.93,1504.83 L343.18,1504.39 L346.42,1503.95 L349.66,1503.50 L352.90,1503.04 L356.15,1502.58 L359.39,1502.12 L362.63,1501.64 L365.88,1501.16 L369.12,1500.67 L372.36,1500.18 L375.60,1499.68 L378.85,1499.17 L382.09,1498.65 L385.33,1498.13 L388.57,1497.60 L391.82,1497.06 L395.06,1496.51 L398.30,1495.96 L401.54,1495.40 L404.79,1494.83 L408.03,1494.25 L411.27,1493.66 L414.51,1493.06 L417.76,1492.46 L421.00,1491.84 L424.24,1491.22 L427.48,1490.58 L430.73,1489.94 L433.97,1489.29 L437.21,1488.62 L440.45,1487.95 L443.70,1487.27 L446.94,1486.57 L450.18,1485.87 L453.42,1485.15 L456.67,1484.42 L459.91,1483.68 L463.15,1482.93 L466.39,1482.17 L469.64,1481.39 L472.88,1480.61 L476.12,1479.81 L479.36,1478.99 L482.61,1478.17 L485.85,1477.33 L489.09,1476.47 L492.33,1475.61 L495.58,1474.72 L498.82,1473.83 L502.06,1472.92 L505.30,1471.99 L508.55,1471.05 L511.79,1470.09 L515.03,1469.12 L518.27,1468.12 L521.52,1467.12 L524.76,1466.09 L528.00,1465.05 L531.24,1463.99 L534.49,1462.91 L537.73,1461.81 L540.97,1460.70 L544.21,1459.56 L547.46,1458.41 L550.70,1457.23 L553.94,1456.03 L557.18,1454.82 L560.43,1453.58 L563.67,1452.31 L566.91,1451.03 L570.15,1449.72 L573.40,1448.39 L576.64,1447.04 L579.88,1445.66 L583.12,1444.25 L586.37,1442.82 L589.61,1441.37 L592.85,1439.88 L596.09,1438.37 L599.34,1436.84 L602.58,1435.27 L605.82,1433.67 L609.06,1432.05 L612.31,1430.39 L615.55,1428.71 L618.79,1426.99 L622.03,1425.24 L625.28,1423.46 L628.52,1421.64 L631.76,1419.79 L635.00,1417.90 L638.25,1415.98 L641.49,1414.02 L644.73,1412.03 L647.97,1409.99 L651.22,1407.92 L654.46,1405.81 L657.70,1403.66 L660.94,1401.46 L664.19,1399.23 L667.43,1396.95 L670.67,1394.63 L673.91,1392.26 L677.16,1389.85 L680.40,1387.39 L683.64,1384.89 L686.88,1382.34 L690.13,1379.74 L693.37,1377.09 L696.61,1374.39 L699.85,1371.63 L703.10,1368.83 L706.34,1365.97 L709.58,1363.06 L712.82,1360.10 L716.07,1357.08 L719.31,1354.00 L722.55,1350.87 L725.79,1347.68 L729.04,1344.43 L732.28,1341.13 L735.52,1337.76 L738.76,1334.34 L742.01,1330.85 L745.25,1327.30 L748.49,1323.69 L751.73,1320.02 L754.98,1316.29 L758.22,1312.49 L761.46,1308.63 L764.70,1304.71 L767.95,1300.72 L771.19,1296.68 L774.43,1292.57 L777.68,1288.40 L780.92,1284.17 L784.16,1279.87 L787.40,1275.52 L790.65,1271.11 L793.89,1266.64 L797.13,1262.11 L800.37,1257.53 L803.62,1252.89 L806.86,1248.21 L810.10,1243.47 L813.34,1238.69 L816.59,1233.86 L819.83,1228.99 L823.07,1224.08 L826.31,1219.13 L829.56,1214.16 L832.80,1209.15 L836.04,1204.13 L839.28,1199.08 L842.53,1194.02 L845.77,1188.95 L849.01,1183.88 L852.25,1178.82 L855.50,1173.76 L858.74,1168.71 L861.98,1163.69 L865.22,1158.70 L868.47,1153.74 L871.71,1148.83 L874.95,1143.97 L878.19,1139.18 L881.44,1134.45 L884.68,1129.80 L887.92,1125.24 L891.16,1120.77 L894.41,1116.41 L897.65,1112.17 L900.89,1108.05 L904.13,1104.06 L907.38,1100.22 L910.62,1096.52 L913.86,1092.99 L917.10,1089.63 L920.35,1086.45 L923.59,1083.46 L926.83,1080.66 L930.07,1078.07 L933.32,1075.69 L936.56,1073.52 L939.80,1071.58 L943.04,1069.87 L946.29,1068.39 L949.53,1067.15 L952.77,1066.16 L956.01,1065.41 L959.26,1064.91 L962.50,1064.66 L965.74,1064.66 L968.98,1064.91 L972.23,1065.41 L975.47,1066.16 L978.71,1067.15 L981.95,1068.39 L985.20,1069.87 L988.44,1071.58 L991.68,1073.52 L994.92,1075.69 L998.17,1078.07 L1001.41,1080.66 L1004.65,1083.46 L1007.89,1086.45 L1011.14,1089.63 L1014.38,1092.99 L1017.62,1096.52 L1020.86,1100.22 L1024.11,1104.06 L1027.35,1108.05 L1030.59,1112.17 L1033.83,1116.41 L1037.08,1120.77 L1040.32,1125.24 L1043.56,1129.80 L1046.80,1134.45 L1050.05,1139.18 L1053.29,1143.97 L1056.53,1148.83 L1059.77,1153.74 L1063.02,1158.70 L1066.26,1163.69 L1069.50,1168.71 L1072.74,1173.76 L1075.99,1178.82 L1079.23,1183.88 L1082.47,1188.95 L1085.71,1194.02 L1088.96,1199.08 L1092.20,1204.13 L1095.44,1209.15 L1098.68,1214.16 L1101.93,1219.13 L1105.17,1224.08 L1108.41,1228.99 L1111.65,1233.86 L1114.90,1238.69 L1118.14,1243.47 L1121.38,1248.21 L1124.62,1252.89 L1127.87,1257.53 L1131.11,1262.11 L1134.35,1266.64 L1137.59,1271.11 L1140.84,1275.52 L1144.08,1279.87 L1147.32,1284.17 L1150.56,1288.40 L1153.81,1292.57 L1157.05,1296.68 L1160.29,1300.72 L1163.53,1304.71 L1166.78,1308.63 L1170.02,1312.49 L1173.26,1316.29 L1176.51,1320.02 L1179.75,1323.69 L1182.99,1327.30 L1186.23,1330.85 L1189.48,1334.34 L1192.72,1337.76 L1195.96,1341.13 L1199.20,1344.43 L1202.45,1347.68 L1205.69,1350.87 L1208.93,1354.00 L1212.17,1357.08 L1215.42,1360.10 L1218.66,1363.06 L1221.90,1365.97 L1225.14,1368.83 L1228.39,1371.63 L1231.63,1374.39 L1234.87,1377.09 L1238.11,1379.74 L1241.36,1382.34 L1244.60,1384.89 L1247.84,1387.39 L1251.08,1389.85 L1254.33,1392.26 L1257.57,1394.63 L1260.81,1396.95 L1264.05,1399.23 L1267.30,1401.46 L1270.54,1403.66 L1273.78,1405.81 L1277.02,1407.92 L1280.27,1409.99 L1283.51,1412.03 L1286.75,1414.02 L1289.99,1415.98 L1293.24,1417.90 L1296.48,1419.79 L1299.72,1421.64 L1302.96,1423.46 L1306.21,1425.24 L1309.45,1426.99 L1312.69,1428.71 L1315.93,1430.39 L1319.18,1432.05 L1322.42,1433.67 L1325.66,1435.27 L1328.90,1436.84 L1332.15,1438.37 L1335.39,1439.88 L1338.63,1441.37 L1341.87,1442.82 L1345.12,1444.25 L1348.36,1445.66 L1351.60,1447.04 L1354.84,1448.39 L1358.09,1449.72 L1361.33,1451.03 L1364.57,1452.31 L1367.81,1453.58 L1371.06,1454.82 L1374.30,1456.03 L1377.54,1457.23 L1380.78,1458.41 L1384.03,1459.56 L1387.27,1460.70 L1390.51,1461.81 L1393.75,1462.91 L1397.00,1463.99 L1400.24,1465.05 L1403.48,1466.09 L1406.72,1467.12 L1409.97,1468.12 L1413.21,1469.12 L1416.45,1470.09 L1419.69,1471.05" fill="none" stroke="#13a0a5" stroke-width="2.6"/>
</g>
<rect x="140.7" y="2.1" width="1261.0" height="779.3" fill="none" stroke="#000" stroke-width="2.8"/><path d="M203.75,781.4v-7M203.75,2.1v7M519.00,781.4v-7M519.00,2.1v7M834.25,781.4v-7M834.25,2.1v7M1149.50,781.4v-7M1149.50,2.1v7M266.80,781.4v-4.2M266.80,2.1v4.2M329.85,781.4v-4.2M329.85,2.1v4.2M392.90,781.4v-4.2M392.90,2.1v4.2M455.95,781.4v-4.2M455.95,2.1v4.2M582.05,781.4v-4.2M582.05,2.1v4.2M645.10,781.4v-4.2M645.10,2.1v4.2M708.15,781.4v-4.2M708.15,2.1v4.2M771.20,781.4v-4.2M771.20,2.1v4.2M897.30,781.4v-4.2M897.30,2.1v4.2M960.35,781.4v-4.2M960.35,2.1v4.2M1023.40,781.4v-4.2M1023.40,2.1v4.2M1086.45,781.4v-4.2M1086.45,2.1v4.2M1212.55,781.4v-4.2M1212.55,2.1v4.2M1275.60,781.4v-4.2M1275.60,2.1v4.2M1338.65,781.4v-4.2M1338.65,2.1v4.2M140.7,676.40h7M1401.7,676.40h-7M140.7,536.29h7M1401.7,536.29h-7M140.7,396.18h7M1401.7,396.18h-7M140.7,256.06h7M1401.7,256.06h-7M140.7,115.95h7M1401.7,115.95h-7M140.7,746.46h4.2M1401.7,746.46h-4.2M140.7,711.43h4.2M1401.7,711.43h-4.2M140.7,641.37h4.2M1401.7,641.37h-4.2M140.7,606.34h4.2M1401.7,606.34h-4.2M140.7,571.32h4.2M1401.7,571.32h-4.2M140.7,501.26h4.2M1401.7,501.26h-4.2M140.7,466.23h4.2M1401.7,466.23h-4.2M140.7,431.20h4.2M1401.7,431.20h-4.2M140.7,361.15h4.2M1401.7,361.15h-4.2M140.7,326.12h4.2M1401.7,326.12h-4.2M140.7,291.09h4.2M1401.7,291.09h-4.2M140.7,221.04h4.2M1401.7,221.04h-4.2M140.7,186.01h4.2M1401.7,186.01h-4.2M140.7,150.98h4.2M1401.7,150.98h-4.2M140.7,80.92h4.2M1401.7,80.92h-4.2M140.7,45.90h4.2M1401.7,45.90h-4.2M140.7,10.87h4.2M1401.7,10.87h-4.2" stroke="#000" stroke-width="2.6" fill="none"/>
<rect x="140.7" y="851.5" width="1261.0" height="779.3" fill="none" stroke="#000" stroke-width="2.8"/><path d="M230.77,1630.8v-7M230.77,851.5v7M410.91,1630.8v-7M410.91,851.5v7M591.05,1630.8v-7M591.05,851.5v7M771.19,1630.8v-7M771.19,851.5v7M951.33,1630.8v-7M951.33,851.5v7M1131.47,1630.8v-7M1131.47,851.5v7M1311.61,1630.8v-7M1311.61,851.5v7M158.71,1630.8v-4.2M158.71,851.5v4.2M194.74,1630.8v-4.2M194.74,851.5v4.2M266.80,1630.8v-4.2M266.80,851.5v4.2M302.83,1630.8v-4.2M302.83,851.5v4.2M338.85,1630.8v-4.2M338.85,851.5v4.2M374.88,1630.8v-4.2M374.88,851.5v4.2M446.94,1630.8v-4.2M446.94,851.5v4.2M482.97,1630.8v-4.2M482.97,851.5v4.2M518.99,1630.8v-4.2M518.99,851.5v4.2M555.02,1630.8v-4.2M555.02,851.5v4.2M627.08,1630.8v-4.2M627.08,851.5v4.2M663.11,1630.8v-4.2M663.11,851.5v4.2M699.13,1630.8v-4.2M699.13,851.5v4.2M735.16,1630.8v-4.2M735.16,851.5v4.2M807.22,1630.8v-4.2M807.22,851.5v4.2M843.25,1630.8v-4.2M843.25,851.5v4.2M879.27,1630.8v-4.2M879.27,851.5v4.2M915.30,1630.8v-4.2M915.30,851.5v4.2M987.36,1630.8v-4.2M987.36,851.5v4.2M1023.39,1630.8v-4.2M1023.39,851.5v4.2M1059.41,1630.8v-4.2M1059.41,851.5v4.2M1095.44,1630.8v-4.2M1095.44,851.5v4.2M1167.50,1630.8v-4.2M1167.50,851.5v4.2M1203.53,1630.8v-4.2M1203.53,851.5v4.2M1239.55,1630.8v-4.2M1239.55,851.5v4.2M1275.58,1630.8v-4.2M1275.58,851.5v4.2M1347.64,1630.8v-4.2M1347.64,851.5v4.2M1383.67,1630.8v-4.2M1383.67,851.5v4.2M140.7,1550.90h7M1401.7,1550.90h-7M140.7,1444.32h7M1401.7,1444.32h-7M140.7,1337.74h7M1401.7,1337.74h-7M140.7,1231.16h7M1401.7,1231.16h-7M140.7,1124.58h7M1401.7,1124.58h-7M140.7,1018.00h7M1401.7,1018.00h-7M140.7,911.42h7M1401.7,911.42h-7M140.7,1604.19h4.2M1401.7,1604.19h-4.2M140.7,1577.55h4.2M1401.7,1577.55h-4.2M140.7,1524.26h4.2M1401.7,1524.26h-4.2M140.7,1497.61h4.2M1401.7,1497.61h-4.2M140.7,1470.97h4.2M1401.7,1470.97h-4.2M140.7,1417.68h4.2M1401.7,1417.68h-4.2M140.7,1391.03h4.2M1401.7,1391.03h-4.2M140.7,1364.38h4.2M1401.7,1364.38h-4.2M140.7,1311.10h4.2M1401.7,1311.10h-4.2M140.7,1284.45h4.2M1401.7,1284.45h-4.2M140.7,1257.81h4.2M1401.7,1257.81h-4.2M140.7,1204.52h4.2M1401.7,1204.52h-4.2M140.7,1177.87h4.2M1401.7,1177.87h-4.2M140.7,1151.23h4.2M1401.7,1151.23h-4.2M140.7,1097.93h4.2M1401.7,1097.93h-4.2M140.7,1071.29h4.2M1401.7,1071.29h-4.2M140.7,1044.64h4.2M1401.7,1044.64h-4.2M140.7,991.36h4.2M1401.7,991.36h-4.2M140.7,964.71h4.2M1401.7,964.71h-4.2M140.7,938.07h4.2M1401.7,938.07h-4.2M140.7,884.78h4.2M1401.7,884.78h-4.2M140.7,858.13h4.2M1401.7,858.13h-4.2" stroke="#000" stroke-width="2.6" fill="none"/>
<g font-size="40" fill="#000">
<text transform="translate(135.5,690.4) scale(1,1.025)" text-anchor="end">0.00</text>
<text transform="translate(135.5,550.3) scale(1,1.025)" text-anchor="end">0.02</text>
<text transform="translate(135.5,410.2) scale(1,1.025)" text-anchor="end">0.04</text>
<text transform="translate(135.5,270.1) scale(1,1.025)" text-anchor="end">0.06</text>
<text transform="translate(135.5,130.0) scale(1,1.025)" text-anchor="end">0.08</text>
<text transform="translate(135.5,1564.9) scale(1,1.025)" text-anchor="end">0.00</text>
<text transform="translate(135.5,1458.3) scale(1,1.025)" text-anchor="end">0.02</text>
<text transform="translate(135.5,1351.7) scale(1,1.025)" text-anchor="end">0.04</text>
<text transform="translate(135.5,1245.2) scale(1,1.025)" text-anchor="end">0.06</text>
<text transform="translate(135.5,1138.6) scale(1,1.025)" text-anchor="end">0.08</text>
<text transform="translate(135.5,1032.0) scale(1,1.025)" text-anchor="end">0.10</text>
<text transform="translate(135.5,925.4) scale(1,1.025)" text-anchor="end">0.12</text>
<text transform="translate(203.8,822) scale(1,1.025)" text-anchor="middle"><tspan dy="2.6">−</tspan><tspan dy="-2.6">10</tspan></text>
<text transform="translate(519.0,822) scale(1,1.025)" text-anchor="middle"><tspan dy="2.6">−</tspan><tspan dy="-2.6">5</tspan></text>
<text transform="translate(834.2,822) scale(1,1.025)" text-anchor="middle">0</text>
<text transform="translate(1149.5,822) scale(1,1.025)" text-anchor="middle">5</text>
<text transform="translate(230.8,1671.5) scale(1,1.025)" text-anchor="middle"><tspan dy="2.6">−</tspan><tspan dy="-2.6">20</tspan></text>
<text transform="translate(410.9,1671.5) scale(1,1.025)" text-anchor="middle"><tspan dy="2.6">−</tspan><tspan dy="-2.6">10</tspan></text>
<text transform="translate(591.0,1671.5) scale(1,1.025)" text-anchor="middle">0</text>
<text transform="translate(771.2,1671.5) scale(1,1.025)" text-anchor="middle">10</text>
<text transform="translate(951.3,1671.5) scale(1,1.025)" text-anchor="middle">20</text>
<text transform="translate(1131.5,1671.5) scale(1,1.025)" text-anchor="middle">30</text>
<text transform="translate(1311.6,1671.5) scale(1,1.025)" text-anchor="middle">40</text>
</g>
<text transform="translate(37.5,755.89) rotate(-90) scale(1,1.04)" font-size="46.25">Fractional decrease of HD<tspan font-size="32" dx="1.5" dy="-17.5">+</tspan><tspan dx="2.5" dy="17.5"> number</tspan></text>
<text transform="translate(37.5,1605.59) rotate(-90) scale(1,1.04)" font-size="46.25">Fractional decrease of HD<tspan font-size="32" dx="1.5" dy="-17.5">+</tspan><tspan dx="2.5" dy="17.5"> number</tspan></text>
<text transform="translate(485.93,1733.90) scale(1,1.04)" font-size="46" >Frequency detuning</text>
<text transform="translate(910.38,1733.90) scale(1,1.04)" font-size="46" font-style="italic">δf</text>
<text transform="translate(969.45,1733.90) scale(1,1.04)" font-size="46" >(Hz)</text>
<text transform="translate(212.02,100.30) scale(1,1.0)" font-size="48" >(a)</text>
<text transform="translate(212.12,956.60) scale(1,1.0)" font-size="48" >(b)</text>
<text transform="translate(634.15,929.00) scale(1,1.04)" font-size="46" fill="#d8262c">CONTINUOUS</text>
<text transform="translate(1025.11,1061.60) scale(1,1.04)" font-size="46.6" fill="#bb5cb2">INTERLEAVED</text>
<g fill="#bb5cb2"><text transform="translate(419.94,80.00) scale(1,1.04)" font-size="46" font-style="italic" stroke="#bb5cb2" stroke-width="0.7">V</text><text transform="translate(448.54,89.30) scale(1,1.04)" font-size="32.5" >RF</text><text transform="translate(452.34,55.30) scale(1,1.0)" font-size="34" >(2)</text></g>
<g fill="#d8262c"><text transform="translate(797.84,80.00) scale(1,1.04)" font-size="46" font-style="italic" stroke="#d8262c" stroke-width="0.7">V</text><text transform="translate(826.44,89.30) scale(1,1.04)" font-size="32.5" >RF</text><text transform="translate(830.24,55.30) scale(1,1.0)" font-size="34" >(1)</text></g>
</svg></body></html>
